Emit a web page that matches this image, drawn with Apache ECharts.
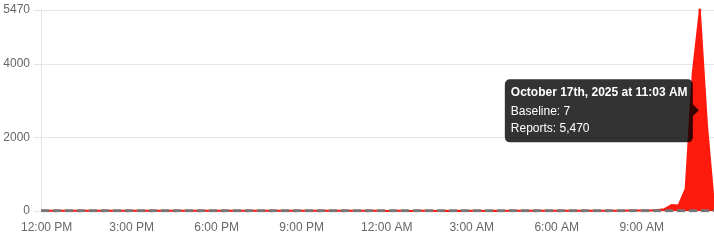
<!DOCTYPE html>
<html><head><meta charset="utf-8">
<script src="https://cdn.jsdelivr.net/npm/echarts@6/dist/echarts.min.js"></script>
<style>html,body{margin:0;padding:0;background:#fff}#c{width:714px;height:240px}</style>
</head><body><div id="c"></div>
<script>
// time of first sample, minutes relative to 12:00 PM on Oct 16; samples every 15 minutes
const startMinute = -12;
const stepMinutes = 15;
const xMax = 1413;
const tickMinutes = [0, 180, 360, 540, 720, 900, 1080, 1260];
const tickLabels = ['12:00 PM', '3:00 PM', '6:00 PM', '9:00 PM', '12:00 AM', '3:00 AM', '6:00 AM', '9:00 AM'];
const yMax = 5470;
const yInterval = 2000;

const reports = [
  6, 5, 7, 6, 4, 5, 8, 6, 5, 7, 6, 5,
  4, 6, 7, 5, 6, 8, 6, 5, 4, 6, 7, 6,
  5, 6, 4, 5, 7, 6, 5, 6, 5, 4, 6, 5,
  7, 6, 5, 4, 5, 6, 5, 4, 6, 5, 4, 5,
  4, 3, 5, 4, 3, 4, 5, 4, 3, 4, 3, 4,
  3, 4, 5, 3, 4, 3, 5, 4, 6, 5, 4, 6,
  5, 7, 6, 5, 8, 6, 7, 9, 8, 10, 9, 12,
  11, 14, 15, 28, 48, 160, 150, 600, 3750, 5470, 2350, 170
];
const baseline = [
  7, 7, 7, 7, 7, 7, 7, 7, 7, 7, 7, 7,
  7, 7, 7, 7, 7, 7, 7, 7, 7, 7, 7, 7,
  7, 7, 7, 7, 7, 7, 7, 7, 7, 7, 7, 7,
  7, 7, 7, 7, 7, 7, 7, 7, 7, 7, 7, 7,
  7, 7, 7, 7, 7, 7, 7, 7, 7, 7, 7, 7,
  7, 7, 7, 7, 7, 7, 7, 7, 7, 7, 7, 7,
  7, 7, 7, 7, 7, 7, 7, 7, 7, 7, 7, 7,
  7, 7, 7, 7, 7, 7, 7, 7, 7, 7, 7, 7
];
const highlightIndex = 93;
const tooltipTitle = 'October 17th, 2025 at 11:03 AM';

const FONT = '"Liberation Sans", Arial, Helvetica, sans-serif';
const minuteOf = i => startMinute + i * stepMinutes;
const reportData = reports.map((v, i) => i === highlightIndex
  ? { value: [minuteOf(i), v], symbol: 'circle', symbolSize: 3, itemStyle: { color: '#ff1a0e', borderWidth: 0 } }
  : [minuteOf(i), v]);
const baselineData = baseline.map((v, i) => [minuteOf(i), v]);

const chart = echarts.init(document.getElementById('c'), null, { renderer: 'canvas' });
chart.setOption({
  animation: false,
  grid: { left: 41, right: 0, top: 10, bottom: 29, containLabel: false, outerBoundsMode: 'none' },
  xAxis: {
    type: 'value', min: startMinute, max: xMax,
    axisLine: { show: false }, axisTick: { show: false }, splitLine: { show: false },
    axisLabel: {
      customValues: tickMinutes,
      formatter: v => tickLabels[tickMinutes.indexOf(v)] || '',
      color: '#666', fontSize: 12, fontFamily: FONT, margin: 11
    }
  },
  yAxis: {
    type: 'value', min: 0, max: yMax, interval: yInterval,
    axisLine: { show: true, onZero: false, lineStyle: { color: '#e2e2e2', width: 1 } },
    axisTick: { show: true, length: 7, lineStyle: { color: '#e2e2e2' } },
    splitLine: { lineStyle: { color: '#e6e6e6', width: 1 } },
    axisLabel: { color: '#666', fontSize: 12, fontFamily: FONT, margin: 11, formatter: v => String(v) }
  },
  series: [
    {
      name: 'Reports', type: 'line', data: reportData,
      symbol: 'none', showAllSymbol: true,
      lineStyle: { color: '#ff1a0e', width: 2 },
      areaStyle: { color: '#ff1a0e', opacity: 1 },
      z: 2
    },
    {
      name: 'Baseline', type: 'line', data: baselineData,
      symbol: 'none',
      lineStyle: { color: '#777', width: 3, type: [8, 4] },
      z: 3
    }
  ]
});

// tooltip box, placed at the hovered sample (Chart.js-style average position)
const p = chart.convertToPixel({ gridIndex: 0 }, [minuteOf(highlightIndex), reports[highlightIndex]]);
const pb = chart.convertToPixel({ gridIndex: 0 }, [minuteOf(highlightIndex), baseline[highlightIndex]]);
const tipX = p[0] - 1, tipY = (p[1] + pb[1]) / 2;
const bw = 188, bh = 63;
const bx = tipX - 6 - bw, by = tipY - 31;
chart.setOption({
  graphic: [
    { type: 'rect', z: 100, shape: { x: bx, y: by, width: bw, height: bh, r: 5 }, style: { fill: 'rgba(0,0,0,0.8)' } },
    { type: 'polygon', z: 100, shape: { points: [[bx + bw, tipY - 6], [tipX, tipY], [bx + bw, tipY + 6]] }, style: { fill: 'rgba(0,0,0,0.8)' } },
    { type: 'text', z: 101, x: bx + 6, y: by + 13.5, style: { text: tooltipTitle, fill: '#fff', font: 'bold 12px ' + FONT, verticalAlign: 'middle' } },
    { type: 'text', z: 101, x: bx + 6, y: by + 32.5, style: { text: 'Baseline: ' + baseline[highlightIndex].toLocaleString('en-US'), fill: '#fff', font: '12px ' + FONT, verticalAlign: 'middle' } },
    { type: 'text', z: 101, x: bx + 6, y: by + 49, style: { text: 'Reports: ' + reports[highlightIndex].toLocaleString('en-US'), fill: '#fff', font: '12px ' + FONT, verticalAlign: 'middle' } }
  ]
});
</script>
</body></html>
